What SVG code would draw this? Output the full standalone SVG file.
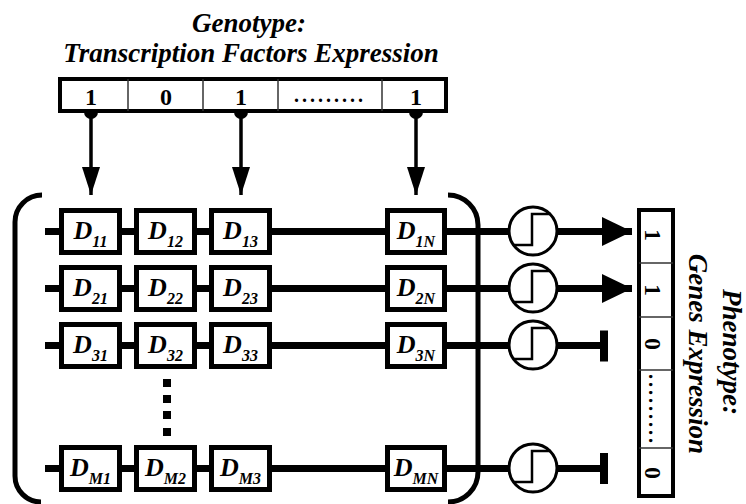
<svg xmlns="http://www.w3.org/2000/svg" width="746" height="504" viewBox="0 0 746 504">
<defs>
<style>
.serif{font-family:"Liberation Serif","Times New Roman",serif;font-weight:bold}
.title{font-style:italic;font-size:27px}
.lbl{font-style:italic;font-size:26px}
.sub{font-size:16px}
.digit{font-size:24px}
.dots{font-size:20px;letter-spacing:3px}
.box{fill:#fff;stroke:#000;stroke-width:5}
.vec{fill:#fff;stroke:#000;stroke-width:4}
.div{stroke:#333;stroke-width:1.5}
.wire{stroke:#000;stroke-width:7;fill:none}
.drop{stroke:#000;stroke-width:3.5;fill:none}
.sig{fill:#fff;stroke:#000;stroke-width:3}
.step{fill:none;stroke:#000;stroke-width:2.5}
.bracket{fill:none;stroke:#000;stroke-width:5}
</style>
<marker id="ahs" markerUnits="userSpaceOnUse" markerWidth="28" markerHeight="18" refX="28" refY="9" orient="auto">
<path d="M0,0 L28,9 L0,18 z" fill="#000"/>
</marker>
<marker id="ahb" markerUnits="userSpaceOnUse" markerWidth="30" markerHeight="30" refX="30" refY="14.5" orient="auto">
<path d="M0,0 L30,14.5 L0,29 z" fill="#000"/>
</marker>
<g id="sigmoid">
<circle class="sig" cx="0" cy="0" r="24"/>
<path class="step" d="M-20,14 H-1 V-17 H18"/>
</g>
</defs>
<rect width="746" height="504" fill="#fff"/>

<g id="genotype-title" class="serif title" text-anchor="middle">
<text x="249" y="32">Genotype:</text>
<text x="251" y="62">Transcription Factors Expression</text>
</g>

<g id="phenotype-title" class="serif title" text-anchor="middle">
<text transform="translate(723,352) rotate(90)">Phenotype:</text>
<text transform="translate(689,354) rotate(90)">Genes Expression</text>
</g>

<g id="connectors">
<line class="wire" x1="45" y1="231.5" x2="510" y2="231.5"/>
<line class="wire" x1="45" y1="288.5" x2="510" y2="288.5"/>
<line class="wire" x1="45" y1="345.5" x2="510" y2="345.5"/>
<line class="wire" x1="45" y1="468.5" x2="510" y2="468.5"/>
<line class="wire" x1="556" y1="231.5" x2="632" y2="231.5" marker-end="url(#ahb)"/>
<line class="wire" x1="556" y1="288.5" x2="632" y2="288.5" marker-end="url(#ahb)"/>
<line class="wire" x1="556" y1="345.5" x2="602" y2="345.5"/>
<rect x="600" y="330.5" width="8" height="31" fill="#000"/>
<line class="wire" x1="556" y1="468.5" x2="602" y2="468.5"/>
<rect x="600" y="453" width="8" height="31" fill="#000"/>
<line class="drop" x1="91" y1="113" x2="91" y2="195" marker-end="url(#ahs)"/>
<line class="drop" x1="241" y1="113" x2="241" y2="195" marker-end="url(#ahs)"/>
<line class="drop" x1="416" y1="113" x2="416" y2="195" marker-end="url(#ahs)"/>
<path d="M84,112 A7,7 0 0 0 98,112 Z"/>
<path d="M234,112 A7,7 0 0 0 248,112 Z"/>
<path d="M409,112 A7,7 0 0 0 423,112 Z"/>
</g>

<g id="brackets">
<path class="bracket" d="M42,195 A27,27 0 0 0 15,222 V476 A26,26 0 0 0 41,502"/>
<path class="bracket" d="M448,195 A30,30 0 0 1 478,225 V472 A30,30 0 0 1 448,502"/>
</g>

<g id="genotype-vector">
<rect class="vec" x="60" y="79" width="386" height="32"/>
<line class="div" x1="128" y1="79" x2="128" y2="111"/>
<line class="div" x1="203" y1="79" x2="203" y2="111"/>
<line class="div" x1="278" y1="79" x2="278" y2="111"/>
<line class="div" x1="382" y1="79" x2="382" y2="111"/>
<g class="serif digit" text-anchor="middle">
<text x="91" y="105">1</text>
<text x="166" y="105">0</text>
<text x="241" y="105">1</text>
<text class="dots" x="330" y="102">.........</text>
<text x="416" y="105">1</text>
</g>
</g>

<g id="phenotype-vector">
<rect class="vec" x="639" y="210" width="34" height="286"/>
<line class="div" x1="639" y1="263" x2="673" y2="263"/>
<line class="div" x1="639" y1="317" x2="673" y2="317"/>
<line class="div" x1="639" y1="370" x2="673" y2="370"/>
<line class="div" x1="639" y1="448" x2="673" y2="448"/>
<g class="serif digit" text-anchor="middle">
<text transform="translate(645,235) rotate(90)">1</text>
<text transform="translate(645,290) rotate(90)">1</text>
<text transform="translate(645,344) rotate(90)">0</text>
<text class="dots" transform="translate(649,410) rotate(90)">.........</text>
<text transform="translate(645,473) rotate(90)">0</text>
</g>
</g>

<g id="D11"><rect class="box" x="61.5" y="210.5" width="58" height="42"/><text class="serif lbl" x="90.5" y="239" text-anchor="middle">D<tspan class="sub" dy="8">11</tspan></text></g>
<g id="D12"><rect class="box" x="136.5" y="210.5" width="58" height="42"/><text class="serif lbl" x="165.5" y="239" text-anchor="middle">D<tspan class="sub" dy="8">12</tspan></text></g>
<g id="D13"><rect class="box" x="211.5" y="210.5" width="58" height="42"/><text class="serif lbl" x="240.5" y="239" text-anchor="middle">D<tspan class="sub" dy="8">13</tspan></text></g>
<g id="D1N"><rect class="box" x="387.5" y="210.5" width="57" height="42"/><text class="serif lbl" x="416" y="239" text-anchor="middle">D<tspan class="sub" dy="8">1N</tspan></text></g>

<g id="D21"><rect class="box" x="61.5" y="267.5" width="58" height="42"/><text class="serif lbl" x="90.5" y="296" text-anchor="middle">D<tspan class="sub" dy="8">21</tspan></text></g>
<g id="D22"><rect class="box" x="136.5" y="267.5" width="58" height="42"/><text class="serif lbl" x="165.5" y="296" text-anchor="middle">D<tspan class="sub" dy="8">22</tspan></text></g>
<g id="D23"><rect class="box" x="211.5" y="267.5" width="58" height="42"/><text class="serif lbl" x="240.5" y="296" text-anchor="middle">D<tspan class="sub" dy="8">23</tspan></text></g>
<g id="D2N"><rect class="box" x="387.5" y="267.5" width="57" height="42"/><text class="serif lbl" x="416" y="296" text-anchor="middle">D<tspan class="sub" dy="8">2N</tspan></text></g>

<g id="D31"><rect class="box" x="61.5" y="324.5" width="58" height="42"/><text class="serif lbl" x="90.5" y="353" text-anchor="middle">D<tspan class="sub" dy="8">31</tspan></text></g>
<g id="D32"><rect class="box" x="136.5" y="324.5" width="58" height="42"/><text class="serif lbl" x="165.5" y="353" text-anchor="middle">D<tspan class="sub" dy="8">32</tspan></text></g>
<g id="D33"><rect class="box" x="211.5" y="324.5" width="58" height="42"/><text class="serif lbl" x="240.5" y="353" text-anchor="middle">D<tspan class="sub" dy="8">33</tspan></text></g>
<g id="D3N"><rect class="box" x="387.5" y="324.5" width="57" height="42"/><text class="serif lbl" x="416" y="353" text-anchor="middle">D<tspan class="sub" dy="8">3N</tspan></text></g>

<g id="vdots" fill="#000">
<rect x="163" y="379" width="8" height="8"/>
<rect x="163" y="395" width="8" height="8"/>
<rect x="163" y="411" width="8" height="8"/>
<rect x="163" y="428" width="8" height="8"/>
</g>

<g id="DM1"><rect class="box" x="61.5" y="447.5" width="58" height="42"/><text class="serif lbl" x="90.5" y="476" text-anchor="middle">D<tspan class="sub" dy="8">M1</tspan></text></g>
<g id="DM2"><rect class="box" x="136.5" y="447.5" width="58" height="42"/><text class="serif lbl" x="165.5" y="476" text-anchor="middle">D<tspan class="sub" dy="8">M2</tspan></text></g>
<g id="DM3"><rect class="box" x="211.5" y="447.5" width="58" height="42"/><text class="serif lbl" x="240.5" y="476" text-anchor="middle">D<tspan class="sub" dy="8">M3</tspan></text></g>
<g id="DMN"><rect class="box" x="387.5" y="447.5" width="57" height="42"/><text class="serif lbl" x="416" y="476" text-anchor="middle">D<tspan class="sub" dy="8">MN</tspan></text></g>

<g id="S1"><use href="#sigmoid" x="533" y="231"/></g>
<g id="S2"><use href="#sigmoid" x="533" y="288"/></g>
<g id="S3"><use href="#sigmoid" x="533" y="345"/></g>
<g id="SM"><use href="#sigmoid" x="533" y="468"/></g>
</svg>
